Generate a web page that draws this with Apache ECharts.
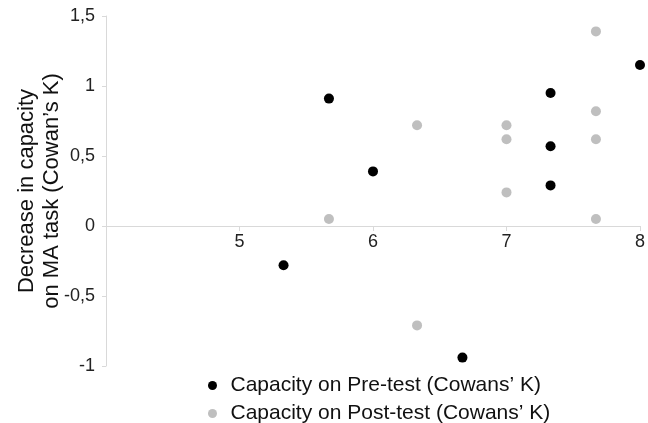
<!DOCTYPE html>
<html>
<head>
<meta charset="utf-8">
<script src="https://cdn.jsdelivr.net/npm/echarts@6/dist/echarts.min.js"></script>
<style>html,body{margin:0;padding:0;background:#fff}#c{width:648px;height:423px}</style>
</head>
<body>
<div id="c"></div>
<script>
const preName = 'Capacity on Pre-test (Cowans\u2019 K)';
const postName = 'Capacity on Post-test (Cowans\u2019 K)';
const yTitle = 'Decrease in capacity\non MA task (Cowan\u2019s K)';

const preX = [5.33, 5.67, 6.0, 6.67, 7.33, 7.33, 7.33, 8.0];
const preY = [-0.28, 0.91, 0.39, -0.94, 0.95, 0.57, 0.29, 1.15];

const postX = [5.67, 6.33, 6.33, 7.0, 7.0, 7.0, 7.67, 7.67, 7.67, 7.67];
const postY = [0.05, 0.72, -0.71, 0.72, 0.62, 0.24, 1.39, 0.82, 0.62, 0.05];

const xTickLabels = ['', '5', '6', '7', '8'];   // for 4..8
const yTickLabels = ['-1', '-0,5', '0', '0,5', '1', '1,5']; // for -1..1.5

const zip = (xs, ys) => xs.map((x, i) => [x, ys[i]]);

const legendBase = {
  orient: 'vertical', padding: 0,
  icon: 'circle', itemWidth: 26, itemHeight: 9,
  textStyle: { color: '#111', fontSize: 21, lineHeight: 21 }
};

const chart = echarts.init(document.getElementById('c'));
chart.setOption({
  animation: false,
  textStyle: { fontFamily: 'Liberation Sans, Arial, sans-serif' },
  grid: { left: 106, right: 7, top: 16, bottom: 57 },
  xAxis: {
    type: 'value', min: 4, max: 8, interval: 1,
    position: 'bottom', offset: -140,
    axisLine: { onZero: false, lineStyle: { color: '#d9d9d9', width: 1 } },
    axisTick: { show: true, length: 5, lineStyle: { color: '#d9d9d9' } },
    splitLine: { show: false },
    axisLabel: {
      color: '#222', fontSize: 18, margin: 7,
      formatter: v => xTickLabels[Math.round(v - 4)]
    }
  },
  yAxis: {
    type: 'value', min: -1, max: 1.5, interval: 0.5,
    axisLine: { show: true, lineStyle: { color: '#d9d9d9', width: 1 } },
    axisTick: { show: true, length: 4, lineStyle: { color: '#d9d9d9' } },
    splitLine: { show: false },
    axisLabel: {
      color: '#222', fontSize: 18, margin: 11,
      formatter: v => yTickLabels[Math.round((v + 1) * 2)]
    },
    name: yTitle,
    nameLocation: 'middle',
    nameGap: 42,
    nameMoveOverlap: false,
    nameTextStyle: { color: '#111', fontSize: 22, lineHeight: 25 }
  },
  legend: [
    Object.assign({}, legendBase, { left: 208, top: 375, data: [preName] }),
    Object.assign({}, legendBase, { left: 208, top: 403, data: [postName] })
  ],
  series: [
    {
      name: postName, type: 'scatter', symbolSize: 10,
      itemStyle: { color: '#bfbfbf', opacity: 1 },
      data: zip(postX, postY)
    },
    {
      name: preName, type: 'scatter', symbolSize: 10,
      itemStyle: { color: '#000000', opacity: 1 },
      data: zip(preX, preY)
    }
  ]
});
</script>
</body>
</html>
